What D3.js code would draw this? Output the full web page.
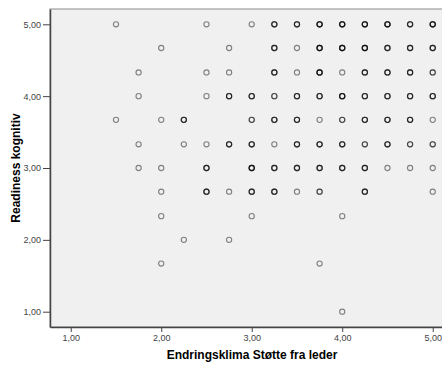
<!DOCTYPE html>
<html>
<head>
<meta charset="utf-8">
<script src="https://cdn.jsdelivr.net/npm/d3@7"></script>
<style>
  body { margin: 0; background: #fff; }
  svg { display: block; font-family: "Liberation Sans", Arial, sans-serif; }
</style>
</head>
<body>
<div id="chart"></div>
<script>
// Data: each point and how many cases sit on it (darker ring = more overlap)
var xValues = [
  1.5, 2.5, 3.0, 3.25, 3.5, 3.75, 4.0, 4.25, 4.5, 4.75, 5.0,
  2.0, 2.75, 3.25, 3.5, 3.75, 4.0, 4.25, 4.5, 4.75, 5.0,
  1.75, 2.5, 2.75, 3.25, 3.5, 3.75, 4.0, 4.25, 4.5, 4.75, 5.0,
  1.75, 2.5, 2.75, 3.0, 3.25, 3.5, 3.75, 4.0, 4.25, 4.5, 4.75, 5.0,
  1.5, 2.0, 2.25, 3.0, 3.25, 3.5, 3.75, 4.0, 4.25, 4.5, 4.75, 5.0,
  1.75, 2.25, 2.5, 2.75, 3.0, 3.25, 3.5, 3.75, 4.0, 4.25, 4.5, 4.75, 5.0,
  1.75, 2.0, 2.5, 3.0, 3.25, 3.5, 3.75, 4.0, 4.25, 4.5, 4.75, 5.0,
  2.0, 2.5, 2.75, 3.0, 3.25, 3.5, 3.75, 4.25, 5.0,
  2.0, 3.0, 4.0,
  2.25, 2.75,
  2.0, 3.75,
  4.0
];
var yValues = [
  5.0, 5.0, 5.0, 5.0, 5.0, 5.0, 5.0, 5.0, 5.0, 5.0, 5.0,
  4.67, 4.67, 4.67, 4.67, 4.67, 4.67, 4.67, 4.67, 4.67, 4.67,
  4.33, 4.33, 4.33, 4.33, 4.33, 4.33, 4.33, 4.33, 4.33, 4.33, 4.33,
  4.0, 4.0, 4.0, 4.0, 4.0, 4.0, 4.0, 4.0, 4.0, 4.0, 4.0, 4.0,
  3.67, 3.67, 3.67, 3.67, 3.67, 3.67, 3.67, 3.67, 3.67, 3.67, 3.67, 3.67,
  3.33, 3.33, 3.33, 3.33, 3.33, 3.33, 3.33, 3.33, 3.33, 3.33, 3.33, 3.33, 3.33,
  3.0, 3.0, 3.0, 3.0, 3.0, 3.0, 3.0, 3.0, 3.0, 3.0, 3.0, 3.0,
  2.67, 2.67, 2.67, 2.67, 2.67, 2.67, 2.67, 2.67, 2.67,
  2.33, 2.33, 2.33,
  2.0, 2.0,
  1.67, 1.67,
  1.0
];
var counts = [
  1, 1, 1, 3, 3, 4, 4, 4, 4, 3, 4,
  1, 1, 3, 1, 4, 4, 4, 3, 3, 3,
  1, 1, 1, 3, 1, 4, 1, 3, 3, 3, 2,
  1, 1, 3, 3, 2, 3, 3, 4, 3, 3, 3, 3,
  1, 1, 3, 2, 3, 3, 1, 2, 3, 3, 3, 1,
  1, 1, 1, 3, 3, 1, 3, 3, 3, 2, 3, 2, 2,
  1, 1, 3, 4, 3, 3, 3, 3, 3, 1, 1, 1,
  1, 3, 1, 3, 3, 1, 2, 3, 1,
  1, 1, 1,
  1, 1,
  1, 1,
  1
];
var xTicks = [1, 2, 3, 4, 5];
var yTicks = [1, 2, 3, 4, 5];
var xTitle = "Endringsklima Støtte fra leder";
var yTitle = "Readiness kognitiv";

// Chart area
var svgWidth = 442;
var svgHeight = 367;
var margin = { top: 9, right: -10, bottom: 40, left: 50 };
var chartWidth = svgWidth - margin.left - margin.right;
var chartHeight = svgHeight - margin.top - margin.bottom;

var svg = d3.select("#chart")
  .append("svg")
  .attr("width", svgWidth)
  .attr("height", svgHeight);

var chartGroup = svg.append("g")
  .attr("transform", `translate(${margin.left}, ${margin.top})`);

// Scales
var xScale = d3.scaleLinear()
  .domain([0.771, 5.213])
  .range([0, chartWidth]);

var yScale = d3.scaleLinear()
  .domain([0.787, 5.213])
  .range([chartHeight, 0]);

// comma decimals like the original
var fmt = d3.formatLocale({ decimal: ",", thousands: ".", grouping: [3], currency: ["", ""] }).format(".2f");

// Background panel
chartGroup.append("rect")
  .attr("x", 0)
  .attr("y", 0)
  .attr("width", chartWidth)
  .attr("height", chartHeight)
  .attr("fill", "#f0f0f0")
  .attr("stroke", "#8c8c8c")
  .attr("stroke-width", 1);

// Axes
var xAxis = d3.axisBottom(xScale).tickValues(xTicks).tickFormat(fmt).tickSizeInner(5).tickSizeOuter(0).tickPadding(3);
var yAxis = d3.axisLeft(yScale).tickValues(yTicks).tickFormat(fmt).tickSizeInner(7).tickSizeOuter(0).tickPadding(2);

var xg = chartGroup.append("g")
  .attr("transform", `translate(0, ${chartHeight})`)
  .call(xAxis);

var yg = chartGroup.append("g")
  .call(yAxis);

[xg, yg].forEach(function (g) {
  g.select(".domain").attr("stroke", "#444").attr("stroke-width", 1.5);
  g.selectAll(".tick line").attr("stroke", "#444");
  g.selectAll(".tick text")
    .attr("fill", "#444")
    .attr("font-size", "9px")
    .attr("font-family", "\"Liberation Sans\", Arial, sans-serif");
});

// Points: one ring per case, stacked so overlaps get darker
var points = [];
xValues.forEach(function (x, i) {
  for (var k = 0; k < counts[i]; k++) {
    points.push({ x: x, y: yValues[i] });
  }
});

chartGroup.selectAll("circle.pt")
  .data(points)
  .enter()
  .append("circle")
  .attr("class", "pt")
  .attr("cx", function (d) { return xScale(d.x); })
  .attr("cy", function (d) { return yScale(d.y); })
  .attr("r", 2.6)
  .attr("fill", "none")
  .attr("stroke", "#000")
  .attr("stroke-opacity", 0.47)
  .attr("stroke-width", 1.1);

// Axis titles
svg.append("text")
  .attr("x", 252)
  .attr("y", 359)
  .attr("text-anchor", "middle")
  .attr("font-size", "12px")
  .attr("font-weight", "bold")
  .attr("fill", "#000")
  .text(xTitle);

svg.append("text")
  .attr("transform", `translate(20, ${margin.top + chartHeight / 2}) rotate(-90)`)
  .attr("text-anchor", "middle")
  .attr("font-size", "12px")
  .attr("font-weight", "bold")
  .attr("fill", "#000")
  .text(yTitle);
</script>
</body>
</html>
